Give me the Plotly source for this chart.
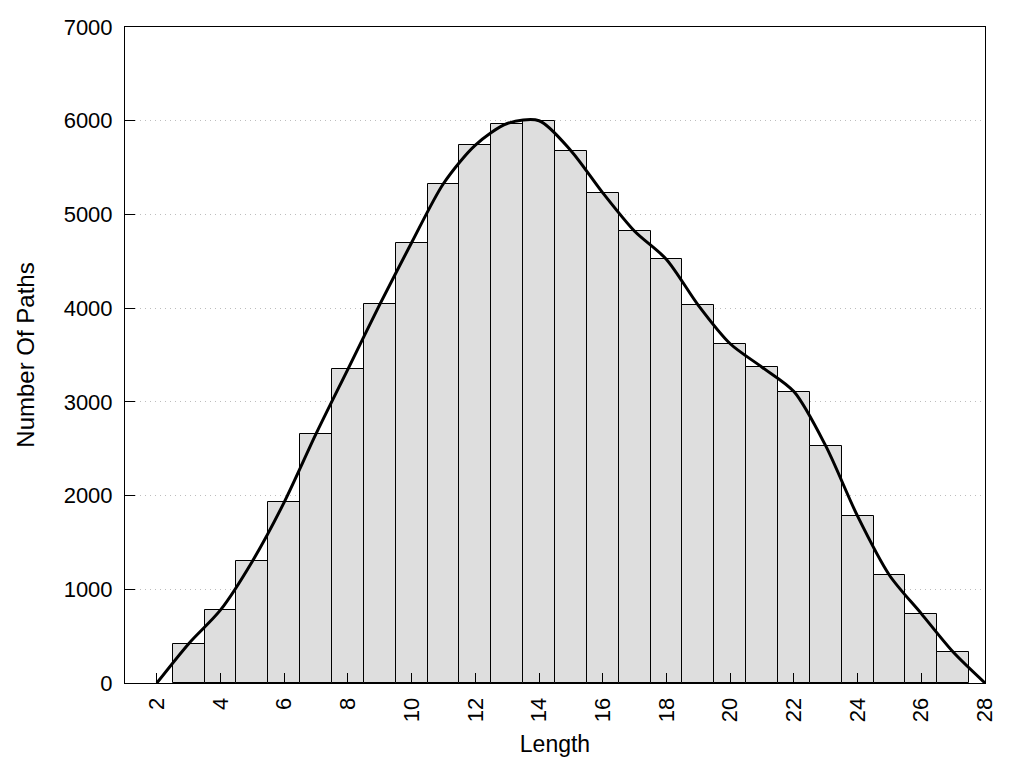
import plotly.graph_objects as go

lengths = list(range(3, 28))
counts = [420, 780, 1300, 1930, 2660, 3350, 4040, 4700, 5330, 5740, 5970, 6000,
          5680, 5230, 4820, 4520, 4030, 3620, 3370, 3110, 2530, 1780, 1150, 740, 330]
curve_x = [2] + lengths + [28]
curve_y = [0] + counts + [0]
x_ticks = list(range(2, 29, 2))
y_ticks = list(range(0, 7001, 1000))

font = "Liberation Sans, Arial, sans-serif"

fig = go.Figure()
fig.add_trace(go.Bar(x=lengths, y=counts, width=1,
                     marker=dict(color="#dedede", line=dict(color="black", width=1)),
                     showlegend=False))
fig.add_trace(go.Scatter(x=curve_x, y=curve_y, mode="lines",
                         line=dict(color="black", width=3, shape="spline", smoothing=0.8),
                         showlegend=False))

fig.update_layout(
    width=1008, height=752,
    margin=dict(l=117, r=31, t=19, b=77),
    plot_bgcolor="white", paper_bgcolor="white",
    font=dict(family=font, size=22, color="black"),
    bargap=0,
)
fig.update_xaxes(range=[1, 28], tickvals=x_ticks, ticktext=[str(v) for v in x_ticks],
                 tickangle=-90, ticks="inside", ticklen=10, tickcolor="black",
                 showline=True, linecolor="black", linewidth=1, mirror=True,
                 showgrid=False, zeroline=False, automargin=False,
                 ticklabelstandoff=5,
                 title=dict(text="Length", font=dict(size=23), standoff=14),
                 tickfont=dict(size=22))
fig.update_yaxes(range=[0, 7000], tickvals=y_ticks, ticks="inside", ticklen=10,
                 tickcolor="black", showline=True, linecolor="black", linewidth=1,
                 mirror=True, showgrid=True, gridcolor="#bdbdbd", griddash="1px,4px",
                 gridwidth=1, zeroline=False, automargin=False,
                 ticklabelstandoff=7,
                 title=dict(text="Number Of Paths", font=dict(size=24), standoff=22),
                 tickfont=dict(size=22))

fig.write_html("out.html")
